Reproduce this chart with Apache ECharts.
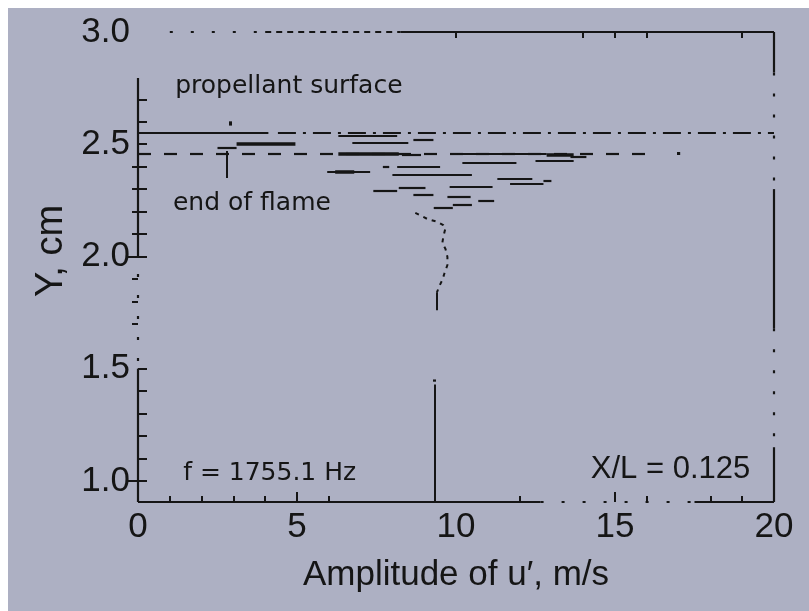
<!DOCTYPE html>
<html><head><meta charset="utf-8">
<script src="https://cdn.jsdelivr.net/npm/echarts@6/dist/echarts.min.js"></script>
<style>html,body{margin:0;padding:0;background:#fff}#c{width:809px;height:611px}</style>
</head><body><div id="c"></div>
<script>
// ---- axis ticks / labels ----
const xLabelValues = [0, 5, 10, 15, 20];
const xTicksLong = [5, 15];
const xTicksShort = [1, 2, 3, 4, 6, 12, 16, 18, 19];
const xTicksTop = [10, 14, 15, 16, 19];
const yLabelValues = [1.0, 1.5, 2.0, 2.5, 3.0];
const yTicksLeft = [1.0, 1.1, 1.2, 1.3, 1.4, 1.5, 2.0, 2.1, 2.2, 2.3, 2.4, 2.5, 2.6, 2.7];
const yTicksRightLong = [1.0, 2.0];
const yTicksRightShort = [1.7, 1.8, 1.9, 2.1, 2.2, 2.3, 2.4];
const xRange = [0, 20];
const yRange = [0.906, 3.0];

// ---- reference lines ----
const surfaceSolid = [[0, 2.55], [4.1, 2.55]];
const surfaceDashDot = [[4.4, 2.55], [20, 2.55]];
const flameDashed = [[0, 2.458], [16.3, 2.458]];
const flameDot = [[16.95, 2.458], [17.05, 2.458]];

// ---- amplitude segments [y, xStart, xEnd] ----
const ampThin = [
  [2.538, 6.3, 8.15], [2.522, 8.66, 9.29], [2.507, 6.74, 8.5], [2.485, 2.5, 3.1],
  [2.455, 8.3, 8.9], [2.458, 10.05, 12.85], [2.444, 13.6, 14.1], [2.416, 10.2, 11.9],
  [2.426, 12.5, 13.7], [2.40, 8.15, 9.5], [2.40, 7.7, 7.9], [2.378, 5.95, 7.3],
  [2.363, 8.0, 10.5], [2.348, 11.3, 12.4], [2.326, 11.7, 12.75], [2.336, 12.75, 13.0],
  [2.311, 9.8, 11.15], [2.304, 8.2, 9.04], [2.292, 7.4, 8.15], [2.277, 8.66, 9.29],
  [2.264, 9.73, 10.46], [2.25, 10.7, 11.2], [2.229, 9.9, 10.5], [2.215, 9.3, 9.9]
];
const ampThick = [
  [2.50, 3.1, 4.95], [2.458, 6.3, 8.2], [2.451, 12.85, 13.7], [2.378, 6.2, 6.8]
];

// ---- dotted profile ----
const profileX = [8.72, 9.1, 9.42, 9.6, 9.67, 9.6, 9.57, 9.67, 9.73, 9.73, 9.64, 9.57, 9.48, 9.4];
const profileY = [2.194, 2.167, 2.154, 2.14, 2.127, 2.087, 2.06, 2.033, 1.998, 1.962, 1.926, 1.895, 1.869, 1.84];
const profileTail = [[9.4, 1.84], [9.4, 1.76]];
const lowerLine = [[9.32, 0.906], [9.32, 1.43]];
const lowerDot = [[9.32, 1.442], [9.32, 1.452]];

// ---- pointers ----
const flameArrow = [[2.79, 2.47], [2.79, 2.35]];
const surfaceArrow = [[2.9, 2.583], [2.9, 2.602]];

// ---- frame pieces ----
const frameSolid = [
  [[0, 0.906], [12.66, 0.906]], [[17.5, 0.906], [20, 0.906]], [[8.25, 3], [20, 3]],
  [[20, 3], [20, 2.82]], [[20, 2.30], [20, 1.68]], [[20, 1.15], [20, 0.906]],
  [[0, 2.795], [0, 2.015]], [[0, 1.5], [0, 0.906]]
];
const frameSparse = [
  [[12.66, 0.906], [17.5, 0.906]], [[1.0, 3], [4.0, 3]], [[20, 2.82], [20, 2.30]],
  [[20, 1.68], [20, 1.15]], [[0, 2.015], [0, 1.5]]
];
const frameDense = [[[4.0, 3], [8.25, 3]]];

// ---- annotations ----
const annoText = ['propellant surface', 'end of flame', 'f = 1755.1 Hz', 'X/L = 0.125'];
const annoX = [1.17, 1.1, 1.42, 14.24];
const annoY = [2.759, 2.238, 1.031, 1.05];
const annoFont = ['25px "DejaVu Sans"', '25px "DejaVu Sans"', '25px "DejaVu Sans"', '31px "Liberation Sans"'];

const INK = '#151515';
const BG = '#adb0c3';

function segLines(segs) { return segs.map(s => ({ coords: [[s[1], s[0]], [s[2], s[0]]] })); }
function pairLines(list) { return list.map(p => ({ coords: p })); }
function linesSeries(data, width, type) {
  return { type: 'lines', coordinateSystem: 'cartesian2d', xAxisIndex: 0, yAxisIndex: 0,
    clip: false, silent: true, data: data,
    lineStyle: { color: INK, width: width, type: type || 'solid', opacity: 1, cap: 'butt' } };
}

const chart = echarts.init(document.getElementById('c'), null, { renderer: 'canvas' });
const tickFont = { fontFamily: 'Liberation Sans', fontSize: 35, color: INK };
const baseX = { type: 'value', min: xRange[0], max: xRange[1], splitLine: { show: false }, axisLine: { show: false } };
const baseY = { type: 'value', min: yRange[0], max: yRange[1], splitLine: { show: false }, axisLine: { show: false } };

chart.setOption({
  backgroundColor: BG,
  animation: false,
  grid: { left: 138, right: 35, top: 32, bottom: 109, containLabel: false },
  xAxis: [
    Object.assign({}, baseX, { position: 'bottom',
      axisTick: { inside: true, length: 10, customValues: xTicksLong, lineStyle: { color: INK, width: 2 } },
      axisLabel: Object.assign({ customValues: xLabelValues, margin: 8 }, tickFont),
      name: 'Amplitude of u\u2032, m/s', nameLocation: 'middle', nameGap: 56,
      nameTextStyle: { fontFamily: 'Liberation Sans', fontSize: 35, color: INK } }),
    Object.assign({}, baseX, { position: 'bottom',
      axisTick: { inside: true, length: 6, customValues: xTicksShort, lineStyle: { color: INK, width: 2 } },
      axisLabel: { show: false } }),
    Object.assign({}, baseX, { position: 'top',
      axisTick: { inside: true, length: 6, customValues: xTicksTop, lineStyle: { color: INK, width: 2 } },
      axisLabel: { show: false } })
  ],
  yAxis: [
    Object.assign({}, baseY, { position: 'left',
      axisTick: { inside: true, length: 9, customValues: yTicksLeft, lineStyle: { color: INK, width: 2 } },
      axisLabel: Object.assign({ customValues: yLabelValues, margin: 8, formatter: v => Number(v).toFixed(1) }, tickFont),
      name: 'Y, cm', nameLocation: 'middle', nameGap: 66, nameRotate: 90,
      nameTextStyle: { fontFamily: 'Liberation Sans', fontSize: 38, color: INK, padding: [0, 0, 0, 32] } }),
    Object.assign({}, baseY, { position: 'right',
      axisTick: { inside: true, length: 10, customValues: yTicksRightLong, lineStyle: { color: INK, width: 2 } },
      axisLabel: { show: false } }),
    Object.assign({}, baseY, { position: 'right',
      axisTick: { inside: true, length: 6, customValues: yTicksRightShort, lineStyle: { color: INK, width: 2 } },
      axisLabel: { show: false } })
  ],
  series: [
    linesSeries(pairLines(frameSolid), 2.2),
    linesSeries(pairLines(frameSparse), 2.2, [3, 18]),
    linesSeries(pairLines(frameDense), 2.2, [6, 5]),
    linesSeries([{ coords: surfaceSolid }], 2),
    linesSeries([{ coords: surfaceDashDot }], 2.2, [18, 7, 3, 7]),
    linesSeries([{ coords: flameDashed }], 2.2, [13, 13]),
    linesSeries([{ coords: flameDot }], 3),
    linesSeries(segLines(ampThin), 2.2),
    linesSeries(segLines(ampThick), 3.5),
    linesSeries([{ coords: profileTail }, { coords: lowerLine }, { coords: flameArrow }], 2),
    linesSeries([{ coords: lowerDot }, { coords: surfaceArrow }], 3),
    { type: 'line', xAxisIndex: 0, yAxisIndex: 0, silent: true, symbol: 'none', clip: false,
      data: profileX.map((x, i) => [x, profileY[i]]),
      lineStyle: { color: INK, width: 2, type: [4, 5] } }
  ]
});

const g = [
  { type: 'rect', shape: { x: 0, y: 0, width: 8, height: 611 }, style: { fill: '#ffffff' }, silent: true },
  { type: 'rect', shape: { x: 0, y: 0, width: 809, height: 8 }, style: { fill: '#ffffff' }, silent: true }
];
annoText.forEach((t, i) => {
  const p = chart.convertToPixel({ gridIndex: 0 }, [annoX[i], annoY[i]]);
  g.push({ type: 'text', x: p[0], y: p[1], silent: true,
    style: { text: t, font: annoFont[i], fill: INK, textAlign: 'left', textVerticalAlign: 'middle', verticalAlign: 'middle' } });
});
chart.setOption({ graphic: g });
</script></body></html>
